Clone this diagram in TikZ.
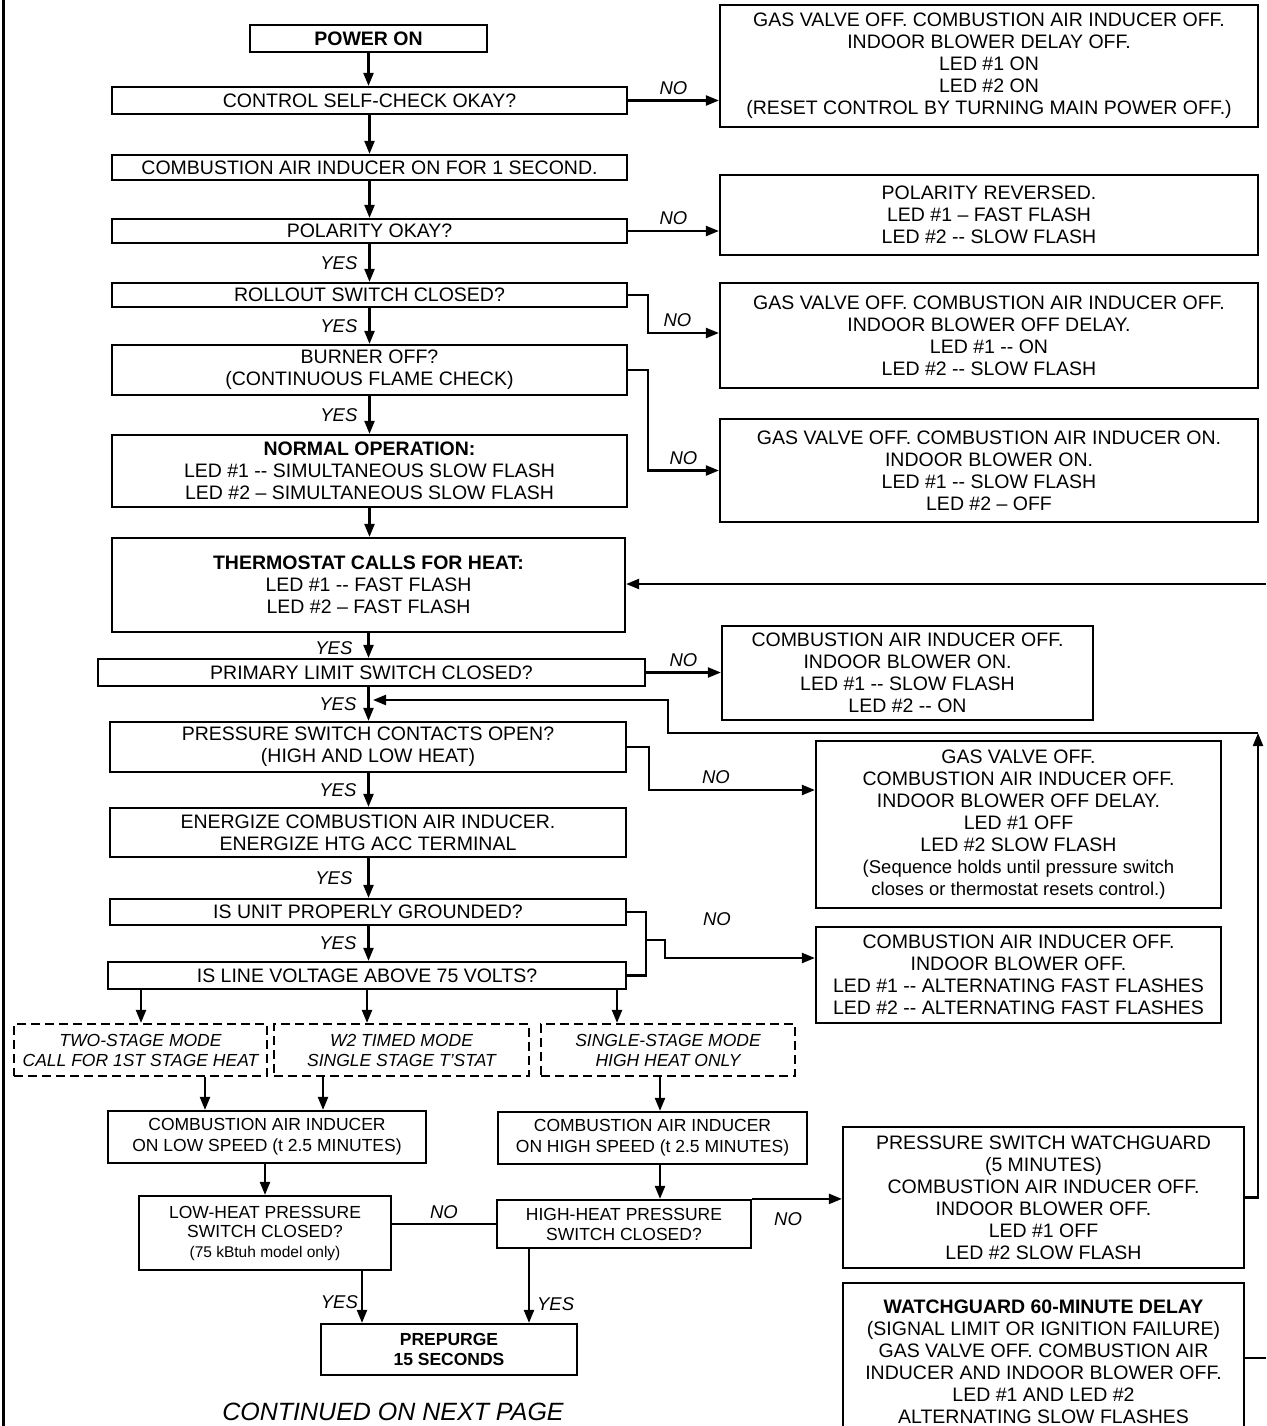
\documentclass[tikz,border=0pt]{standalone}
\usepackage{fontspec}
\setmainfont{Liberation Sans}
\usetikzlibrary{arrows.meta}
\tikzset{
  bx/.style={draw, line width=2.2pt, inner sep=2pt, align=center, font=\fontsize{19.5}{22}\selectfont},
  dbx/.style={bx, dash pattern=on 9pt off 5pt, font=\fontsize{17.5}{20}\selectfont\itshape},
  sbx/.style={bx, font=\fontsize{17.5}{21}\selectfont},
  arr/.style={line width=2.2pt, -{Triangle[length=13pt,width=10pt]}},
  ln/.style={line width=2.2pt},
  lbl/.style={font=\fontsize{18.5}{20}\selectfont\itshape, inner sep=1pt},
}
\begin{document}
\begin{tikzpicture}[x=1pt,y=-1pt]
\fill[white] (0,0) rectangle (1266,1426);
\useasboundingbox (0,0) rectangle (1266,1426);
\draw[line width=3pt] (3,0) -- (3,1426);

% ---------- main column ----------
\node[bx, minimum width=237pt, minimum height=27pt] (pow) at (368.5,38.5) {\textbf{POWER ON}};
\node[bx, minimum width=515pt, minimum height=27pt] (ctrl) at (369.5,100.5) {CONTROL SELF-CHECK OKAY?};
\node[bx, minimum width=515pt, minimum height=25pt] (cai1) at (369.5,167.5) {COMBUSTION AIR INDUCER ON FOR 1 SECOND.};
\node[bx, minimum width=515pt, minimum height=24pt] (pol) at (369.5,231) {POLARITY OKAY?};
\node[bx, minimum width=515pt, minimum height=24pt] (roll) at (369.5,295) {ROLLOUT SWITCH CLOSED?};
\node[bx, minimum width=515pt, minimum height=50pt] (burn) at (369.5,370) {BURNER OFF?\\(CONTINUOUS FLAME CHECK)};
\node[bx, minimum width=515pt, minimum height=72pt] (norm) at (369.5,471) {\textbf{NORMAL OPERATION:}\\LED \#1 -{}- SIMULTANEOUS SLOW FLASH\\LED \#2 -- SIMULTANEOUS SLOW FLASH};
\node[bx, minimum width=513pt, minimum height=94pt] (thermo) at (368.5,585) {\textbf{THERMOSTAT CALLS FOR HEAT:}\\LED \#1 -{}- FAST FLASH\\LED \#2 -- FAST FLASH};
\node[bx, minimum width=547pt, minimum height=27pt] (prim) at (371.5,672.5) {PRIMARY LIMIT SWITCH CLOSED?};
\node[bx, minimum width=516pt, minimum height=50pt] (press) at (368,747) {PRESSURE SWITCH CONTACTS OPEN?\\(HIGH AND LOW HEAT)};
\node[bx, minimum width=516pt, minimum height=49pt] (ener) at (368,832.5) {ENERGIZE COMBUSTION AIR INDUCER.\\ENERGIZE HTG ACC TERMINAL};
\node[bx, minimum width=516pt, minimum height=26pt] (grnd) at (368,912) {IS UNIT PROPERLY GROUNDED?};
\node[bx, minimum width=518pt, minimum height=27pt] (volt) at (367,975.5) {IS LINE VOLTAGE ABOVE 75 VOLTS?};

% ---------- modes ----------
\node[dbx, minimum width=253pt, minimum height=52pt] (two) at (140.5,1050) {TWO-STAGE MODE\\CALL FOR 1ST STAGE HEAT};
\node[dbx, minimum width=255pt, minimum height=52pt] (w2) at (401.5,1050) {W2 TIMED MODE\\SINGLE STAGE T'STAT};
\node[dbx, minimum width=254pt, minimum height=52pt] (single) at (668,1050) {SINGLE-STAGE MODE\\HIGH HEAT ONLY};

\node[sbx, minimum width=318pt, minimum height=52pt] (low) at (267,1137) {COMBUSTION AIR INDUCER\\ON LOW SPEED (t 2.5 MINUTES)};
\node[sbx, minimum width=309pt, minimum height=52pt] (high) at (652.5,1138) {COMBUSTION AIR INDUCER\\ON HIGH SPEED (t 2.5 MINUTES)};
\node[sbx, font=\fontsize{17.5}{19.5}\selectfont, minimum width=252pt, minimum height=74pt] (lowh) at (265,1233) {LOW-HEAT PRESSURE\\SWITCH CLOSED?\\\fontsize{15.5}{19}\selectfont (75 kBtuh model only)};
\node[sbx, font=\fontsize{17.5}{20}\selectfont, minimum width=254pt, minimum height=48pt] (highh) at (624,1224) {HIGH-HEAT PRESSURE\\SWITCH CLOSED?};
\node[sbx, font=\fontsize{17.5}{20}\selectfont\bfseries, minimum width=256pt, minimum height=51pt] (prep) at (449,1349.5) {PREPURGE\\15 SECONDS};
\node[font=\fontsize{25}{28}\selectfont\itshape, inner sep=0pt] (cont) at (393,1412) {CONTINUED ON NEXT PAGE};

% ---------- right column ----------
\node[bx, minimum width=538pt, minimum height=122pt] (r1) at (989,66) {GAS VALVE OFF. COMBUSTION AIR INDUCER OFF.\\INDOOR BLOWER DELAY OFF.\\LED \#1 ON\\LED \#2 ON\\(RESET CONTROL BY TURNING MAIN POWER OFF.)};
\node[bx, minimum width=538pt, minimum height=80pt] (r2) at (989,215) {POLARITY REVERSED.\\LED \#1 -- FAST FLASH\\LED \#2 -{}- SLOW FLASH};
\node[bx, minimum width=538pt, minimum height=105pt] (r3) at (989,335.5) {GAS VALVE OFF. COMBUSTION AIR INDUCER OFF.\\INDOOR BLOWER OFF DELAY.\\LED \#1 -{}- ON\\LED \#2 -{}- SLOW FLASH};
\node[bx, minimum width=538pt, minimum height=103pt] (r4) at (989,470.5) {GAS VALVE OFF. COMBUSTION AIR INDUCER ON.\\INDOOR BLOWER ON.\\LED \#1 -{}- SLOW FLASH\\LED \#2 -- OFF};
\node[bx, minimum width=371pt, minimum height=94pt] (r5) at (907.5,673) {COMBUSTION AIR INDUCER OFF.\\INDOOR BLOWER ON.\\LED \#1 -{}- SLOW FLASH\\LED \#2 -{}- ON};
\node[bx, minimum width=405pt, minimum height=167pt] (r6) at (1018.5,824.5) {GAS VALVE OFF.\\COMBUSTION AIR INDUCER OFF.\\INDOOR BLOWER OFF DELAY.\\LED \#1 OFF\\LED \#2 SLOW FLASH\\\fontsize{18.5}{21}\selectfont (Sequence holds until pressure switch\\\fontsize{18.5}{21}\selectfont closes or thermostat resets control.)};
\node[bx, minimum width=405pt, minimum height=96pt] (r7) at (1018.5,975) {COMBUSTION AIR INDUCER OFF.\\INDOOR BLOWER OFF.\\LED \#1 -{}- ALTERNATING FAST FLASHES\\LED \#2 -{}- ALTERNATING FAST FLASHES};
\node[bx, minimum width=401pt, minimum height=141pt] (r8) at (1043.5,1197.5) {PRESSURE SWITCH WATCHGUARD\\(5 MINUTES)\\COMBUSTION AIR INDUCER OFF.\\INDOOR BLOWER OFF.\\LED \#1 OFF\\LED \#2 SLOW FLASH};
\node[bx, minimum width=401pt, minimum height=157pt] (r9) at (1043.5,1361.5) {\textbf{WATCHGUARD 60-MINUTE DELAY}\\(SIGNAL LIMIT OR IGNITION FAILURE)\\GAS VALVE OFF. COMBUSTION AIR\\INDUCER AND INDOOR BLOWER OFF.\\LED \#1 AND LED \#2\\ALTERNATING SLOW FLASHES};

% ---------- helper coordinates ----------
\coordinate (x141) at (141,0);
\coordinate (x617) at (617,0);
\coordinate (x205) at (205,0);
\coordinate (x323) at (323,0);
\coordinate (x660) at (660,0);
\coordinate (x265) at (265,0);
\coordinate (x362) at (362,0);
\coordinate (x529) at (529,0);
\coordinate (j1) at (645,940);
\coordinate (lp1) at (1258,733);
\coordinate (lp2) at (668,733);
\coordinate (lp3) at (668,700);
\coordinate (mainin) at (373,700);
\coordinate (edgeT) at (1266,584);
\coordinate (edgeB) at (1266,1358);

% ---------- main flow ----------
\draw[arr] (pow.south) -- (pow.south |- ctrl.north);
\draw[arr] (ctrl.south) -- (ctrl.south |- cai1.north);
\draw[arr] (cai1.south) -- (cai1.south |- pol.north);
\draw[arr] (pol.south) -- node[lbl,left=10pt]{YES} (pol.south |- roll.north);
\draw[arr] (roll.south) -- node[lbl,left=10pt]{YES} (roll.south |- burn.north);
\draw[arr] (burn.south) -- node[lbl,left=10pt]{YES} (burn.south |- norm.north);
\draw[arr] (norm.south) -- (norm.south |- thermo.north);
\draw[arr] (thermo.south) -- node[lbl,left=14pt,yshift=-3pt]{YES} (thermo.south |- prim.north);
\draw[arr] (prim.south -| thermo.south) -- node[lbl,left=10pt]{YES} (press.north -| thermo.south);
\draw[arr] (press.south -| thermo.south) -- node[lbl,left=10pt]{YES} (ener.north -| thermo.south);
\draw[arr] (ener.south -| thermo.south) -- node[lbl,left=14pt]{YES} (grnd.north -| thermo.south);
\draw[arr] (grnd.south -| thermo.south) -- node[lbl,left=10pt]{YES} (volt.north -| thermo.south);

% ---------- NO branches ----------
\draw[arr] (ctrl.east) -- node[lbl,above=4pt]{NO} (ctrl.east -| r1.west);
\draw[arr] (pol.east) -- node[lbl,above=4pt]{NO} (pol.east -| r2.west);
\draw[arr] (roll.east) -- ++(20,0) |- node[lbl,above=4pt,pos=0.75,xshift=-6pt]{NO} ([yshift=2.5pt]r3.west);
\draw[arr] (burn.east) -- ++(20,0) |- node[lbl,above=4pt,pos=0.75]{NO} (r4.west);
\draw[arr] (edgeT) -- (edgeT -| thermo.east);
\draw[arr] (prim.east) -- node[lbl,above=4pt]{NO} (prim.east -| r5.west);
\draw[arr] (press.east) -- ++(22,0) |- node[lbl,above=4pt,pos=0.75,xshift=-16pt]{NO} ([yshift=34.5pt]r6.west);
\draw[ln] (grnd.east) -- ++(19,0) |- (volt.east);
\draw[arr] (j1) -- ++(20,0) |- ([yshift=17pt]r7.west);
\node[lbl] (no7) at (717,919) {NO};

% ---------- loop back ----------
\draw[arr] (r8.east) -| (lp1);
\draw[arr] (lp1) -- (lp2) -- (lp3) -- (mainin);
\draw[ln] (r9.east |- edgeB) -- (edgeB);

% ---------- mode branches ----------
\draw[arr] (volt.south -| x141) -- (two.north -| x141);
\draw[arr] (volt.south) -- (volt.south |- w2.north);
\draw[arr] (volt.south -| x617) -- (single.north -| x617);
\draw[arr] (two.south -| x205) -- (low.north -| x205);
\draw[arr] (w2.south -| x323) -- (low.north -| x323);
\draw[arr] (single.south -| x660) -- (high.north -| x660);
\draw[arr] (low.south -| x265) -- (lowh.north -| x265);
\draw[arr] (high.south -| x660) -- (highh.north -| x660);
\draw[ln] (lowh.east |- highh.west) -- node[lbl,above=3pt]{NO} (highh.west);
\draw[arr] (highh.north east) -- node[lbl,below=12pt,pos=0.4]{NO} (highh.north east -| r8.west);
\draw[arr] (lowh.south -| x362) -- node[lbl,left=2pt,pos=0.6]{YES} (prep.north -| x362);
\draw[arr] (highh.south -| x529) -- node[lbl,right=6pt,pos=0.74]{YES} (prep.north -| x529);
\end{tikzpicture}
\end{document}
